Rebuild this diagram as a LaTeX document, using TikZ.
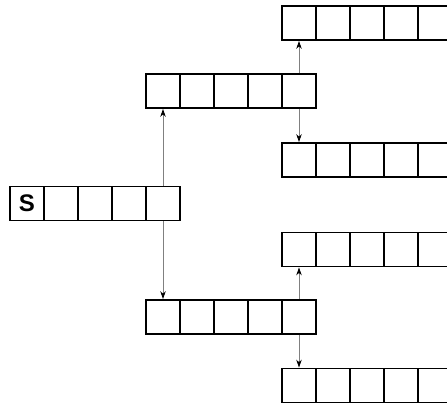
\documentclass[tikz,border=0pt]{standalone}
\usepackage{fontspec}
\setmainfont{Liberation Sans}
\usetikzlibrary{arrows.meta}

\tikzset{
  cell/.style={draw, line width=1.8pt, minimum size=34pt, inner sep=0pt},
  link/.style={draw=gray, line width=0.9pt, -{Stealth[black, length=8pt, width=5.5pt]}},
}

\begin{document}
\begin{tikzpicture}[x=1pt, y=1pt]
	\useasboundingbox (0,0) rectangle (447,-404);
	% rows of cells
	\foreach \row/\x/\y in {s/27/-203.5, a/163/-91, b/163/-317, c/299/-23, d/299/-160, e/299/-249.5, f/299/-385.5}
		\foreach \i in {1,...,5}
			\node [cell] (\row\i) at ({\x+34*(\i-1)}, \y) {};
	\node [font=\bfseries\fontsize{24}{24}\selectfont] (label) at (s1) {S};
	% links
	\draw [link] (s5.north) to (a1.south);
	\draw [link] (s5.south) to (b1.north);
	\draw [link] (a5.north) to (c1.south);
	\draw [link] (a5.south) to (d1.north);
	\draw [link] (b5.north) to (e1.south);
	\draw [link] (b5.south) to (f1.north);
\end{tikzpicture}
\end{document}
